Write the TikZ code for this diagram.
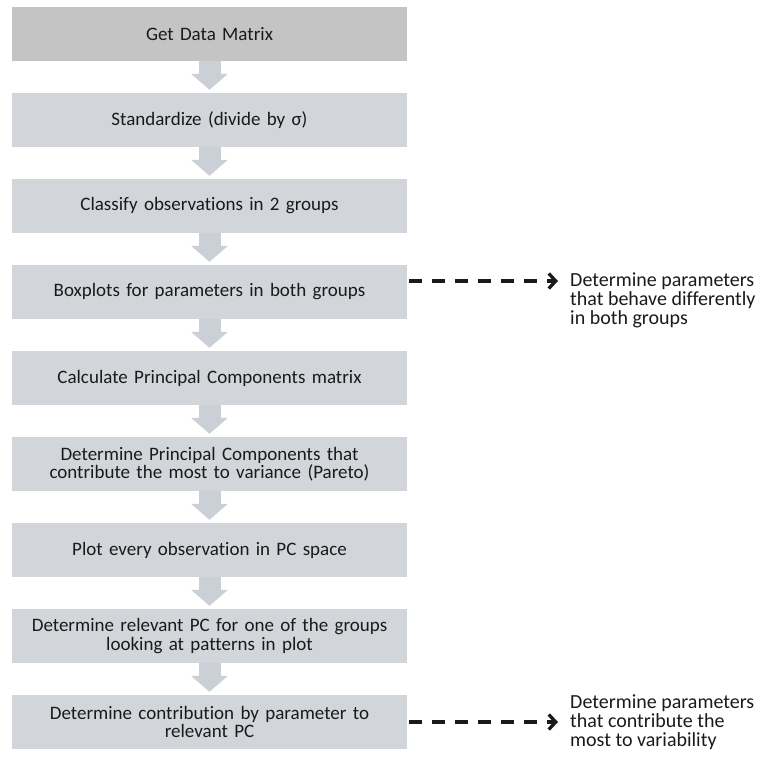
\documentclass[tikz,border=0pt]{standalone}
\usepackage{fontspec}
\setmainfont{Carlito}[Ligatures=NoCommon]
\usetikzlibrary{arrows.meta,calc}
\definecolor{boxgray}{HTML}{C4C4C4}
\definecolor{boxblue}{HTML}{D2D6DA}
\definecolor{flowarrow}{HTML}{CBD0D6}
\definecolor{ink}{HTML}{1A1A1A}
\tikzset{
  stepbox/.style={fill=boxblue, minimum width=395pt, minimum height=54pt,
    inner sep=0pt, text width=390pt, align=center, text=ink,
    font=\fontsize{19}{18.5}\selectfont},
  flow/.style={draw=flowarrow, line width=22pt,
    -{Triangle[width=36pt,length=16pt]}, shorten >=3pt},
  sidenote/.style={anchor=west, align=left, inner sep=0pt, text=ink,
    font=\fontsize{20}{19}\selectfont},
  dashlink/.style={draw=ink, line width=3.3pt, dash pattern=on 13pt off 10pt,
    -{Straight Barb[length=7pt,width=15pt,line width=3.3pt]}, shorten >=12pt}
}
\begin{document}
\begin{tikzpicture}[x=1pt,y=1pt]
  \useasboundingbox (0,0) rectangle (764,-764);
  % main column of steps
  \node[stepbox, fill=boxgray] (s1) at (209.5,-34)  {Get Data Matrix};
  \node[stepbox] (s2) at (209.5,-120) {Standardize (divide by σ)};
  \node[stepbox] (s3) at (209.5,-206) {Classify observations in 2 groups};
  \node[stepbox] (s4) at (209.5,-292) {Boxplots for parameters in both groups};
  \node[stepbox] (s5) at (209.5,-378) {Calculate Principal Components matrix};
  \node[stepbox] (s6) at (209.5,-464) {Determine Principal Components that\\contribute the most to variance (Pareto)};
  \node[stepbox] (s7) at (209.5,-550) {Plot every observation in PC space};
  \node[stepbox] (s8) at (209.5,-636) {Determine relevant PC for one of the groups\\looking at patterns in plot};
  \node[stepbox] (s9) at (209.5,-722) {Determine contribution by parameter to\\relevant PC};
  % block arrows between consecutive steps
  \foreach \a/\b in {s1/s2,s2/s3,s3/s4,s4/s5,s5/s6,s6/s7,s7/s8,s8/s9}
    \draw[flow] (\a.south) -- (\b.north);
  % side conclusions
  \node[sidenote] (o1) at (570,-300) {Determine parameters\\that behave differently\\in both groups};
  \node[sidenote] (o2) at (570,-722) {Determine parameters\\that contribute the\\most to variability};
  \coordinate (e1) at ($(s4.east)+(2,11)$);
  \coordinate (e2) at ($(s9.east)+(2,0)$);
  \draw[dashlink] (e1) -- (e1 -| o1.west);
  \draw[dashlink] (e2) -- (o2.west);
\end{tikzpicture}
\end{document}
